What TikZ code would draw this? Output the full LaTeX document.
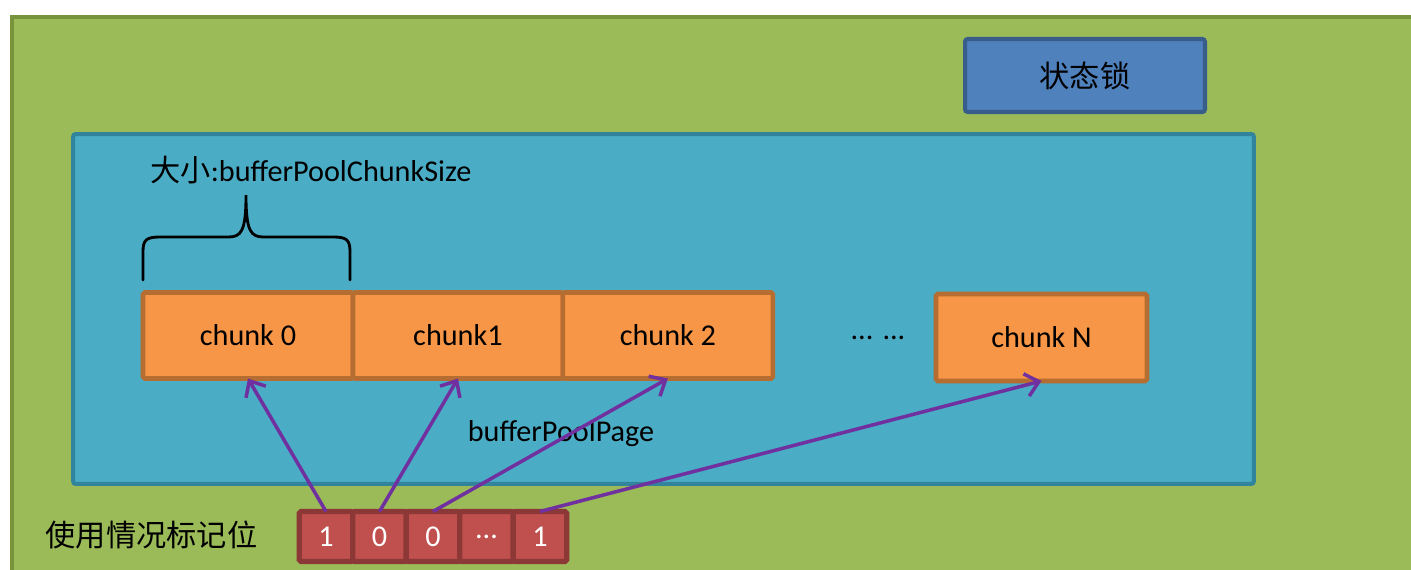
\documentclass[tikz,border=0pt]{standalone}
\usepackage{fontspec}
\setmainfont{Carlito}
\newfontfamily\cjk{Noto Sans CJK SC}
\usetikzlibrary{positioning,arrows.meta}
\definecolor{leaf}{HTML}{9BBB59}
\definecolor{leafdk}{HTML}{77933C}
\definecolor{lockc}{HTML}{4F81BD}
\definecolor{lockdk}{HTML}{385D8A}
\definecolor{poolc}{HTML}{4BACC6}
\definecolor{pooldk}{HTML}{31849B}
\definecolor{chk}{HTML}{F79646}
\definecolor{chkdk}{HTML}{B66D31}
\definecolor{bitc}{HTML}{C0504D}
\definecolor{bitdk}{HTML}{8C3836}
\definecolor{ptrc}{HTML}{7030A0}
\tikzset{
  lbl/.style={font=\fontsize{17.2}{20}\selectfont,inner sep=0pt},
  panel/.style={lbl,line width=2.3pt,rounded corners=1.5pt,minimum width=#1},
  chunkbox/.style={lbl,fill=chk,draw=chkdk,line width=2.6pt,outer sep=0pt,rounded corners=1pt,minimum width=4.2cm,minimum height=1.72cm},
  bitbox/.style={lbl,text=white,fill=bitc,draw=bitdk,line width=3pt,outer sep=0pt,rounded corners=1pt,minimum width=1.07cm,minimum height=1cm},
  curly/.style={line width=1.6pt,line cap=round},
  flow/.style={-{Straight Barb[length=2.6mm,width=4.6mm]},ptrc,line width=2pt},
}
\begin{document}
\begin{tikzpicture}[x=0.02cm,y=-0.02cm]
\useasboundingbox (0,0) rectangle (1411,569);
\clip (0,0) rectangle (1411,569);
\draw[draw=leafdk,fill=leaf,line width=2.3pt] (12,17) rectangle (1440,600);
\node[panel=4.8cm,minimum height=1.46cm,fill=lockc,draw=lockdk] (lock) at (1085,75.5) {\cjk 状态锁};
\node[panel=23.62cm,minimum height=7.0cm,fill=poolc,draw=pooldk] (pool) at (663.5,309) {};
\node[lbl,anchor=west] (size) at (150,170) {{\cjk 大小}:bufferPoolChunkSize};
\node[chunkbox] (c0) at (248,335.5) {chunk 0};
\node[chunkbox,right=0pt of c0] (c1) {chunk1};
\node[chunkbox,right=0pt of c1] (c2) {chunk 2};
\node[lbl] (more) at (878,338) {... ...};
\node[chunkbox,minimum width=4.22cm,minimum height=1.74cm] (cN) at (1041.5,337.5) {chunk N};
\draw[curly] (143,280) -- (143,252) .. controls (143,240) and (146,237) .. (160,237)
  -- (228,237) .. controls (241,237) and (246,232) .. (246,195)
  .. controls (246,232) and (251,237) .. (264,237) -- (333,237)
  .. controls (347,237) and (350,240) .. (350,252) -- (350,280);
\node[lbl] (page) at (561,434) {bufferPoolPage};
\node[lbl] (usage) at (151.5,535) {\cjk 使用情况标记位};
\node[bitbox] (b1) at (326,536.5) {1};
\foreach \v/\n/\p in {0/b2/b1,0/b3/b2,\ldots/b4/b3,1/b5/b4}
  \node[bitbox,right=0pt of \p] (\n) {\v};
\foreach \s/\t in {b1/c0,b2/c1,b3/c2,b5/cN}
  \draw[flow] (\s.north) -- (\t.south);
\end{tikzpicture}
\end{document}
